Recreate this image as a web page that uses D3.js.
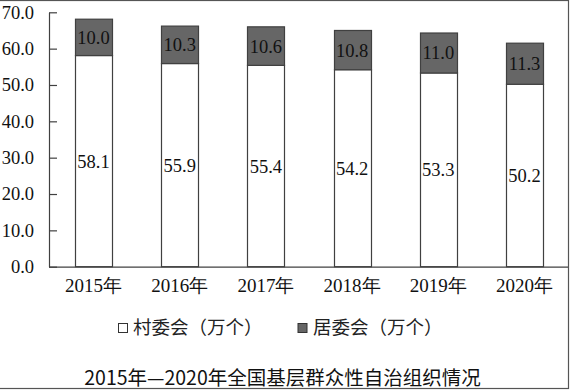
<!DOCTYPE html>
<html><head><meta charset="utf-8">
<script src="https://cdn.jsdelivr.net/npm/d3@7"></script>
<style>body{margin:0;background:#fff}svg{display:block}</style>
</head><body>
<svg id="c" width="573" height="391"></svg>
<script>
const years = ["2015年","2016年","2017年","2018年","2019年","2020年"];
const village = [58.1,55.9,55.4,54.2,53.3,50.2];
const resident = [10.0,10.3,10.6,10.8,11.0,11.3];
const yTicks = [0,10,20,30,40,50,60,70];
const seriesNames = ["村委会（万个）","居委会（万个）"];
const title = "2015年—2020年全国基层群众性自治组织情况";

const svg = d3.select("#c");
const serif = "'Liberation Serif','Times New Roman',serif";
const sans = "'Noto Sans CJK SC','Noto Sans',sans-serif";

// border
svg.append("rect").attr("x",-2).attr("y",0.5).attr("width",570.5).attr("height",388)
  .attr("fill","none").attr("stroke","#555").attr("stroke-width",1.2);

const x = d3.scaleBand().domain(years).range([50.4,567.6]).paddingInner(0.571).paddingOuter(0.2855);
const y = d3.scaleLinear().domain([0,70]).range([266.7,12.3]);

const rows = years.map((yr,i)=>({yr, v:village[i], r:resident[i]}));

const g = svg.append("g");
// village segments
g.selectAll(".v").data(rows).join("rect")
  .attr("x",d=>Math.round(x(d.yr))+0.5).attr("width",Math.round(x.bandwidth()))
  .attr("y",d=>y(d.v)).attr("height",d=>y(0)-y(d.v))
  .attr("fill","#fff").attr("stroke","#404040").attr("stroke-width",1.2);
// resident segments
g.selectAll(".r").data(rows).join("rect")
  .attr("x",d=>Math.round(x(d.yr))+0.5).attr("width",Math.round(x.bandwidth()))
  .attr("y",d=>y(d.v+d.r)).attr("height",d=>y(d.v)-y(d.v+d.r))
  .attr("fill","#666").attr("stroke","#404040").attr("stroke-width",1.2);

// labels
g.selectAll(".lv").data(rows).join("text")
  .attr("x",d=>x(d.yr)+x.bandwidth()/2).attr("y",d=>(y(d.v)+y(0))/2)
  .attr("dy","0.35em").attr("text-anchor","middle")
  .style("font-family",serif).style("font-size","18.5px").attr("fill","#111")
  .text(d=>d.v.toFixed(1));
g.selectAll(".lr").data(rows).join("text")
  .attr("x",d=>x(d.yr)+x.bandwidth()/2).attr("y",d=>(y(d.v)+y(d.v+d.r))/2)
  .attr("dy","0.35em").attr("text-anchor","middle")
  .style("font-family",serif).style("font-size","18.5px").attr("fill","#111")
  .text(d=>d.r.toFixed(1));

// y axis
const ya = svg.append("g").attr("transform","translate(49,0)")
  .call(d3.axisLeft(y).tickValues(yTicks).tickFormat(d3.format(".1f")).tickSizeInner(-8).tickSizeOuter(0).tickPadding(15));
ya.selectAll("text").style("font-family",serif).style("font-size","18.5px").attr("fill","#111");
ya.selectAll("line,path").attr("stroke","#404040").attr("stroke-width",1.2);

// x axis
const xa = svg.append("g").attr("transform","translate(0,266.7)")
  .call(d3.axisBottom(x).tickSize(0).tickPadding(12));
xa.select(".domain").attr("d","M49,0.5H568");
xa.selectAll("text").style("font-family",serif).style("font-size","19px").attr("fill","#111");
xa.selectAll("line,path").attr("stroke","#404040").attr("stroke-width",1.2);

// legend
const leg = [{name:seriesNames[0],fill:"#fff",sx:118,tx:133},{name:seriesNames[1],fill:"#666",sx:297.5,tx:313}];
const lg = svg.append("g");
lg.selectAll("rect").data(leg).join("rect")
  .attr("x",d=>d.sx+0.5).attr("y",323.5).attr("width",9).attr("height",9)
  .attr("fill",d=>d.fill).attr("stroke","#333").attr("stroke-width",1);
lg.selectAll("text").data(leg).join("text")
  .attr("x",d=>d.tx).attr("y",328).attr("dy","0.35em")
  .style("font-family",sans).style("font-size","18.5px").attr("fill","#222")
  .text(d=>d.name);

// title
svg.append("text").attr("x",282.5).attr("y",385).attr("text-anchor","middle")
  .style("font-family",sans).style("font-size","19.5px").attr("fill","#111")
  .text(title);
</script>
</body></html>
